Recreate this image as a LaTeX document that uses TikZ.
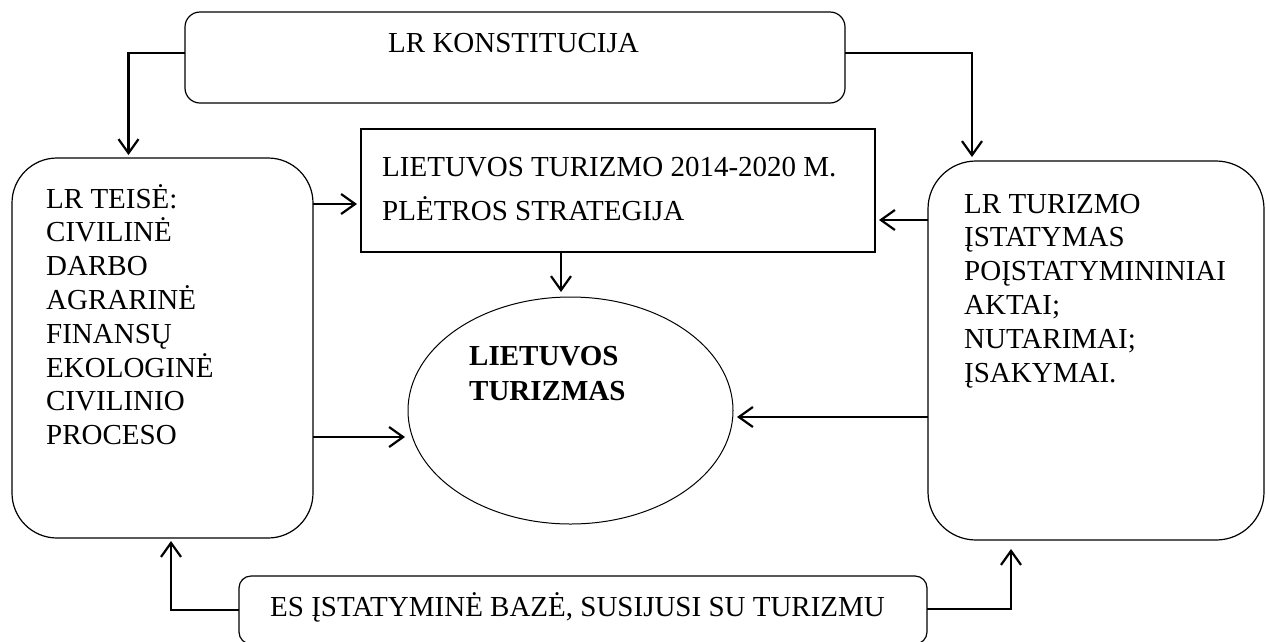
\documentclass[tikz,border=0pt]{standalone}
\usepackage{fontspec}
\setmainfont{Liberation Serif}
\usetikzlibrary{arrows.meta,calc,shapes.geometric}
\begin{document}
\begin{tikzpicture}[x=1pt,y=-1pt,
  box/.style={draw, line width=1.2pt, inner sep=0pt, outer sep=0pt},
  arr/.style={line width=2.2pt, -{Straight Barb[length=14pt,width=20pt]}},
  txt/.style={inner sep=0pt, anchor=base west, font=\fontsize{29}{34}\selectfont},
]
\useasboundingbox (0,0) rectangle (1266,641);
% boxes
\node[box, rounded corners=15pt, minimum width=660pt, minimum height=91pt] (top) at (515,57.5) {};
\node[box, minimum width=514pt, minimum height=123pt] (strat) at (618,190.5) {};
\node[box, rounded corners=45pt, minimum width=301pt, minimum height=380pt] (left) at (162.5,348) {};
\node[box, rounded corners=48pt, minimum width=336pt, minimum height=379pt] (right) at (1096,350.5) {};
\node[box, ellipse, line width=1pt, minimum width=325pt, minimum height=227pt] (ell) at (570.5,410.5) {};
\node[box, rounded corners=12pt, minimum width=688pt, minimum height=68pt] (bot) at (583,610) {};
% texts
\node[txt, anchor=base] (tTop) at (513.5,52) {LR KONSTITUCIJA};
\node[txt] (tS1) at (382,176) {LIETUVOS TURIZMO 2014-2020 M.};
\node[txt] (tS2) at (382,220) {PLĖTROS STRATEGIJA};
\foreach \t [count=\i] in {LR TEISĖ:,CIVILINĖ,DARBO,AGRARINĖ,FINANSŲ,EKOLOGINĖ,CIVILINIO,PROCESO}
  \node[txt] (tL\i) at (46,{208+33.8*(\i-1)}) {\t};
\foreach \t [count=\i] in {LR TURIZMO,ĮSTATYMAS,POĮSTATYMININIAI,AKTAI;,NUTARIMAI;,ĮSAKYMAI.}
  \node[txt] (tR\i) at (964,{213+33.8*(\i-1)}) {\t};
\node[txt, font=\fontsize{29}{34}\selectfont\bfseries] (tE1) at (469,365) {LIETUVOS};
\node[txt, font=\fontsize{29}{34}\selectfont\bfseries] (tE2) at (469,400) {TURIZMAS};
\node[txt] (tB) at (270,616) {ES ĮSTATYMINĖ BAZĖ, SUSIJUSI SU TURIZMU};
% connectors
\draw[arr, shorten >=3pt] ($(top.west)+(0,-4.5)$) -| ($(left.north)+(-34,0)$);
\draw[arr, shorten >=4pt] ($(top.east)+(0,-4.5)$) -| ($(right.north)+(-124,0)$);
\draw[arr, shorten >=4pt] ($(left.east)+(0,-144)$) -- ($(strat.west)+(0,13.5)$);
\draw[arr, shorten >=5pt] ($(strat.south)+(-57,0)$) -- ($(ell.north)+(-9.5,0)$);
\draw[arr, shorten >=3pt] ($(left.east)+(0,89)$) -- ($(ell.west)+(0,26.5)$);
\draw[arr, shorten >=4pt] ($(right.west)+(0,-130.5)$) -- ($(strat.east)+(0,29.5)$);
\draw[arr, shorten >=4pt] ($(right.west)+(0,66.5)$) -- ($(ell.east)+(0,6.5)$);
\draw[arr, shorten >=3pt] (bot.west) -| ($(left.south)+(8.5,0)$);
\draw[arr, shorten >=9pt] ($(bot.east)+(0,-1)$) -| ($(right.south)+(-85,0)$);
\end{tikzpicture}
\end{document}
